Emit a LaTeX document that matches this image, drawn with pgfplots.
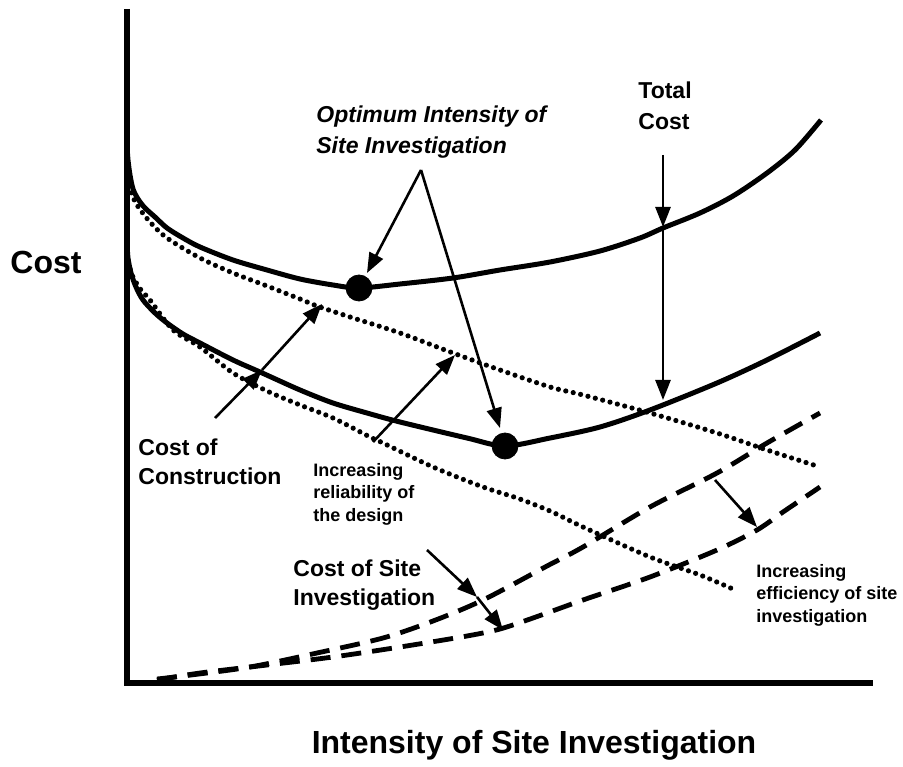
\documentclass[border=0pt]{standalone}
\usepackage{pgfplots}
\pgfplotsset{compat=1.18}
\usetikzlibrary{arrows.meta}
\usepackage{fontspec}
\setmainfont{Liberation Sans}

\begin{document}
\begin{tikzpicture}[
  lbl/.style={font=\bfseries\fontsize{11.5}{14.5}\selectfont, align=left, anchor=west, inner sep=0pt},
  sml/.style={font=\bfseries\fontsize{9}{11.25}\selectfont, align=left, anchor=west, inner sep=0pt},
  arr/.style={line width=1.3pt, -{Triangle[length=10pt,width=7.5pt]}}]
\begin{axis}[scale only axis, width=451.5pt, height=383pt,
  xmin=-127, xmax=776, ymin=-83, ymax=683, hide axis, clip=false]

% axes
\addplot[line width=3pt, line join=miter] coordinates {(0,674) (0,0) (746,0)};

% total cost, before and after
\addplot[line width=2.5pt, smooth] coordinates {
  (0,537) (1,523) (3,508) (6,494) (11,484) (18,475) (28,466) (40,455) (56,445)
  (73,436) (106,423) (140,413) (173,404) (206,398) (232,395) (273,399) (326,405)
  (373,413) (423,421) (473,432) (513,445) (536,455) (573,470) (606,487) (640,510)
  (668,533) (694,563)};
\addplot[line width=2.5pt, smooth] coordinates {
  (0,440) (1,425) (4,410) (9,396) (16,383) (28,370) (40,360) (56,349) (73,340)
  (106,323) (133,311) (173,293) (206,280) (240,270) (273,261) (340,245) (378,237)
  (423,245) (473,256) (523,273) (590,300) (640,323) (693,350)};

% cost of construction
\addplot[line width=2.6pt, line cap=round, dash pattern=on 0pt off 3.8pt, smooth] coordinates {
  (1,505) (4,491) (10,478) (23,461) (40,445) (73,425) (106,410) (140,397) (173,384)
  (190,377) (223,366) (273,350) (326,330) (373,313) (423,296) (456,288) (523,270)
  (590,250) (640,233) (693,216)};
\addplot[line width=2.6pt, line cap=round, dash pattern=on 0pt off 3.8pt, smooth] coordinates {
  (1,421) (6,406) (14,393) (23,383) (46,353) (73,336) (106,310) (140,292) (173,278)
  (206,265) (243,246) (256,240) (306,216) (356,196) (390,185) (423,172) (456,156)
  (523,126) (573,108) (608,93)};

% cost of site investigation
\addplot[line width=2.4pt, dash pattern=on 10pt off 5.5pt, smooth] coordinates {
  (30,4) (56,7) (123,16) (190,30) (256,45) (306,62) (356,83) (420,117) (456,136)
  (523,176) (590,210) (640,240) (693,270)};
\addplot[line width=2.4pt, dash pattern=on 10pt off 5.5pt, smooth] coordinates {
  (30,3) (73,10) (140,18) (206,26) (273,36) (340,47) (373,54) (406,65) (456,83)
  (523,106) (590,133) (630,153) (656,171) (693,196)};

% optimum points
\addplot[only marks, mark=*, mark size=6.5pt] coordinates {(232,395) (378,237)};

% annotations
\draw[arr] (axis cs:294,513) -- (axis cs:240,410);
\draw[arr] (axis cs:294,513) -- (axis cs:373,255);
\draw[arr] (axis cs:536,528) -- (axis cs:536,456);
\draw[arr] (axis cs:536,456) -- (axis cs:536,283);
\draw[arr] (axis cs:88,265) -- (axis cs:135,313);
\draw[arr] (axis cs:135,313) -- (axis cs:195,379);
\draw[arr] (axis cs:246,241) -- (axis cs:328,328);
\draw[arr] (axis cs:300,133) -- (axis cs:350,86);
\draw[arr] (axis cs:350,86) -- (axis cs:376,53);
\draw[arr] (axis cs:588,203) -- (axis cs:630,156);

\node[font=\bfseries\fontsize{16}{19}\selectfont, inner sep=0pt] at (axis cs:-81,421) {Cost};
\node[font=\bfseries\fontsize{16}{19}\selectfont, inner sep=0pt] at (axis cs:407,-62) {Intensity of Site Investigation};
\node[lbl, font=\bfseries\itshape\fontsize{11.5}{15.5}\selectfont] at (axis cs:189,551) {Optimum Intensity of\\Site Investigation};
\node[lbl, font=\bfseries\fontsize{11.5}{15.5}\selectfont] at (axis cs:511,577) {Total\\Cost};
\node[lbl] at (axis cs:11,221) {Cost of\\Construction};
\node[sml] at (axis cs:186,189) {Increasing\\reliability of\\the design};
\node[lbl] at (axis cs:166,98) {Cost of Site\\Investigation};
\node[sml] at (axis cs:629,88) {Increasing\\efficiency of site\\investigation};

\coordinate (BL) at (axis cs:-127,-83);
\coordinate (TR) at (axis cs:776,683);
\end{axis}
\pgfresetboundingbox
\path (BL) rectangle (TR);
\end{tikzpicture}
\end{document}
